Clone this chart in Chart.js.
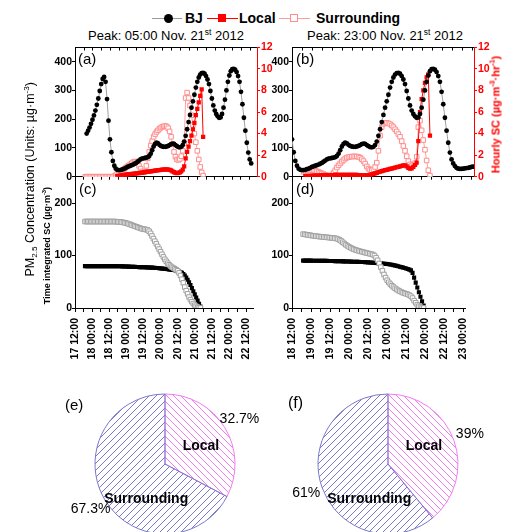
<!DOCTYPE html>
<html>
<head>
<meta charset="utf-8">
<title>PM2.5 source contribution, Beijing Nov. 2012</title>
<script src="https://cdn.jsdelivr.net/npm/chart.js@4.4.1/dist/chart.umd.min.js"></script>
<style>
  html, body { margin: 0; padding: 0; background: #fff; }
  #page { position: relative; width: 505px; height: 532px; overflow: hidden; font-family: 'Liberation Sans', Arial, sans-serif; color: #000; }
  #page canvas { position: absolute; }
  .t { position: absolute; white-space: nowrap; line-height: 1; }
  .rot { position: absolute; white-space: nowrap; text-align: center; line-height: 1; transform: rotate(-90deg); }
  sup, sub { font-size: 65%; line-height: 0; }
  .mk { position: absolute; }
</style>
</head>
<body>
<div id="page">
  <!-- legend -->
  <div class="mk" style="left:152px;top:18px;width:30px;height:1px;background:#9a9a9a"></div>
  <div class="mk" style="left:164px;top:14px;width:9px;height:9px;border-radius:50%;background:#000"></div>
  <div class="t" style="left:185px;top:11px;font-size:14px;font-weight:bold">BJ</div>
  <div class="mk" style="left:207px;top:18px;width:31px;height:1px;background:#ff0000"></div>
  <div class="mk" style="left:218px;top:14px;width:8px;height:8px;background:#ff0000"></div>
  <div class="t" style="left:239px;top:11px;font-size:14px;font-weight:bold">Local</div>
  <div class="mk" style="left:279px;top:18px;width:31px;height:1px;background:#ff9c9c"></div>
  <div class="mk" style="left:290px;top:14px;width:8px;height:8px;box-sizing:border-box;border:1px solid #ff8c8c;background:#fff"></div>
  <div class="t" style="left:316px;top:11px;font-size:14px;font-weight:bold">Surrounding</div>

  <div class="t" style="left:66px;top:29px;width:200px;text-align:center;font-size:13px">Peak: 05:00 Nov. 21<sup>st</sup> 2012</div>
  <div class="t" style="left:285px;top:29px;width:200px;text-align:center;font-size:13px">Peak: 23:00 Nov. 21<sup>st</sup> 2012</div>

  <canvas id="cA" width="250" height="144" style="left:35px;top:40px"></canvas>
  <canvas id="cB" width="250" height="144" style="left:252px;top:40px"></canvas>
  <canvas id="cC" width="230" height="198" style="left:35px;top:170px"></canvas>
  <canvas id="cD" width="230" height="198" style="left:252px;top:170px"></canvas>
  <canvas id="cE" width="210" height="168" style="left:60px;top:380px"></canvas>
  <canvas id="cF" width="210" height="168" style="left:283px;top:380px"></canvas>

  <div class="rot" style="left:-100px;top:173px;width:260px;font-size:12.5px">PM<sub>2.5</sub> Concentration (Units: µg·m<sup>-3</sup>)</div>
  <div class="rot" style="left:-23px;top:241px;width:140px;font-size:9px;font-weight:bold">Time integrated SC (µg·m<sup>-3</sup>)</div>
  <div class="rot" style="left:416px;top:109px;width:160px;font-size:11px;font-weight:bold;color:#ff0000">Hourly SC (µg·m<sup>-3</sup>·hr<sup>-1</sup>)</div>

  <div class="t" style="left:78px;top:51px;font-size:15px">(a)</div>
  <div class="t" style="left:296px;top:51px;font-size:15px">(b)</div>
  <div class="t" style="left:79px;top:181px;font-size:15px">(c)</div>
  <div class="t" style="left:296px;top:181px;font-size:15px">(d)</div>
  <div class="t" style="left:65px;top:397px;font-size:15px">(e)</div>
  <div class="t" style="left:288px;top:395px;font-size:16px">(f)</div>
</div>
<script>
// time is counted in hours after Nov 17 00:00, one value per hour
const bjStart = 20;
const bj = [
  150, 160, 171, 184, 198, 213, 230, 250, 272, 298, 322, 340,
  347, 330, 270, 195, 130, 85, 55, 38, 28, 24, 23, 23,
  24, 26, 28, 31, 34, 36, 38, 40, 42, 45, 48, 52,
  56, 60, 63, 64, 65, 66, 68, 72, 80, 92, 105, 114,
  118, 116, 111, 107, 105, 104, 104, 105, 107, 110, 113, 115,
  114, 110, 106, 103, 102, 104, 110, 122, 142, 165, 190, 215,
  240, 262, 285, 310, 330, 345, 355, 360, 361, 358, 350, 338,
  322, 298, 272, 248, 230, 218, 210, 205, 206, 218, 240, 268,
  300, 330, 352, 367, 374, 375, 372, 364, 350, 330, 295, 252,
  205, 160, 118, 84, 60, 46, 37, 31, 28, 27, 27, 28,
  29, 30, 31, 32, 34, 35
];

// hourly source contribution, peak of 05:00 Nov 21
const localAStart = 41;
const localA = [
  0.05, 0.08, 0.1, 0.12, 0.15, 0.18, 0.2, 0.22, 0.24, 0.25, 0.26, 0.27,
  0.28, 0.3, 0.32, 0.34, 0.36, 0.38, 0.4, 0.42, 0.44, 0.46, 0.48, 0.5,
  0.52, 0.54, 0.56, 0.58, 0.6, 0.62, 0.64, 0.65, 0.66, 0.67, 0.67, 0.66,
  0.63, 0.58, 0.5, 0.42, 0.36, 0.34, 0.35, 0.4, 0.5, 0.65, 0.95, 1.7,
  2.3, 2.8, 3.3, 3.8, 4.4, 5.0, 5.7, 6.3, 6.9, 7.5, 8.1, 3.7
];
const surrAStart = 19;
const surrA = [
  0, 0, 0, 0, 0, 0, 0, 0, 0, 0, 0, 0, 0, 0, 0, 0, 0, 0, 0, 0,
  0.05, 0.15, 0.25, 0.35, 0.45, 0.55, 0.65, 0.75, 0.85, 0.95,
  1.05, 1.15, 1.25, 1.35, 1.4, 1.4, 1.25, 1.0, 0.75, 0.5,
  0.4, 0.45, 1.0, 1.7, 2.3, 2.9, 3.3, 3.7, 3.95, 4.15,
  4.3, 4.45, 4.55, 4.62, 4.68, 4.7, 4.65, 4.5, 4.2, 3.7,
  3.0, 2.3, 1.85, 1.6, 1.55, 1.65, 1.9, 2.4, 3.1, 7.3,
  7.8, 7.3, 6.6, 5.7, 4.8, 4.0, 3.2, 2.4, 1.6, 0.9, 0.4, 0.1
];

// hourly source contribution, peak of 23:00 Nov 21
const localBStart = 44;
const localB = [
  0.05, 0.06, 0.07, 0.08, 0.09, 0.1, 0.1, 0.11, 0.11, 0.12,
  0.12, 0.13, 0.13, 0.14, 0.14, 0.15, 0.15, 0.15, 0.16, 0.16,
  0.16, 0.17, 0.17, 0.17, 0.18, 0.18, 0.18, 0.18, 0.18, 0.17,
  0.17, 0.16, 0.15, 0.14, 0.13, 0.12, 0.12, 0.13, 0.15, 0.18,
  0.22, 0.26, 0.3, 0.36, 0.42, 0.48, 0.52, 0.56, 0.6, 0.64,
  0.68, 0.72, 0.76, 0.8, 0.84, 0.88, 0.92, 0.96, 1.0, 1.04,
  1.05, 0.95, 0.82, 0.76, 0.78, 0.9, 1.1, 1.3, 3.3, 6.0, 7.2, 8.0, 8.7, 9.2, 9.5, 3.8
];
const surrBStart = 43;
const surrB = [
  0.45, 0.52, 0.58, 0.61, 0.62, 0.62, 0.6, 0.56, 0.5, 0.44,
  0.37, 0.3, 0.24, 0.18, 0.13, 0.08, 0.05, 0.15, 0.35, 0.6,
  0.85, 1.05, 1.23, 1.4, 1.55, 1.68, 1.76, 1.82, 1.85, 1.87,
  1.88, 1.88, 1.87, 1.84, 1.76, 1.62, 1.45, 1.22, 0.95, 0.75,
  0.63, 0.6, 0.68, 0.9, 1.3, 2.4, 3.8, 4.6, 4.9, 5.0,
  5.0, 4.95, 4.88, 4.75, 4.6, 4.4, 4.2, 3.95, 3.7, 3.3,
  2.85, 2.4, 1.9, 1.45, 1.15, 1.05, 1.1, 1.25, 1.85, 4.6, 5.2, 4.3, 3.4, 2.5, 1.5, 0.6, 0.1
];

// time integrated source contribution
const cumLocalAStart = 19;
const cumLocalA = [
  80, 80, 80, 80, 80, 80, 80, 80, 80, 80, 80, 80,
  80, 80, 80, 80, 80, 80, 80, 80, 80, 80, 79.9, 79.8,
  79.7, 79.6, 79.5, 79.4, 79.3, 79.2, 79, 78.9, 78.8, 78.7, 78.6, 78.5,
  78.3, 78.2, 78.1, 78, 77.9, 77.8, 77.7, 77.6, 77.5, 77.3, 77.1, 77,
  76.8, 76.6, 76.4, 76.2, 75.9, 75.6, 75.3, 75, 74.7, 74.4, 74, 73.6,
  73.2, 72.8, 72.4, 72, 71.4, 70.6, 69.6, 68.4, 67, 65, 62, 58,
  54, 49, 44, 38, 32, 26, 20, 14, 8, 3
];
const cumSurrAStart = 19;
const cumSurrA = [
  165, 165, 165, 165, 165, 165, 165, 165, 165, 165, 165, 165,
  165, 165, 165, 165, 165, 165, 165, 165, 165, 164.9, 164.8, 164.6,
  164.4, 164.1, 163.7, 163.2, 162.6, 161.9, 161.1, 160.2, 159.2, 158.1, 157, 156,
  155, 154, 153, 152, 151.2, 150.6, 150.1, 149.6, 148.8, 146.5, 142.5, 137.5,
  132.5, 127.5, 122.5, 117.5, 112.5, 107.5, 102.5, 97.5, 93, 89, 85.5, 82.5,
  80, 78, 76.3, 74.7, 73, 71, 67, 62, 55, 48, 40, 33,
  27, 21, 16, 12, 8.5, 5.5, 3.3, 1.7, 0.6, 0.1
];
const cumLocalBStart = 43;
const cumLocalB = [
  90.5, 90.5, 90.5, 90.4, 90.4, 90.4, 90.3, 90.3, 90.2, 90.2,
  90.1, 90.1, 90, 90, 89.9, 89.9, 89.8, 89.8, 89.7, 89.6,
  89.5, 89.4, 89.3, 89.2, 89.1, 89, 88.9, 88.8, 88.7, 88.6,
  88.5, 88.4, 88.3, 88.2, 88.1, 88, 87.9, 87.8, 87.7, 87.5,
  87.2, 87, 86.8, 86.6, 86.4, 86.2, 86, 85.7, 85.4, 85.1,
  84.8, 84.5, 84.2, 84, 83.5, 83, 82.4, 81.8, 81.1, 80.4,
  79.6, 78.8, 78, 77.2, 76.4, 75.5, 74.5, 73.3, 71.8, 67, 58, 48.5, 39, 30, 21.5, 13, 4.5
];
const cumSurrBStart = 43;
const cumSurrB = [
  141, 140.5, 140, 139.5, 139, 138.5, 138, 137.6, 137.2, 136.8,
  136.4, 136, 135.7, 135.4, 135.1, 134.8, 134.5, 134.2, 133.9, 133.6,
  133.2, 132.6, 131.5, 130, 128, 125.5, 123, 120.5, 118.5, 116.5,
  115, 113.5, 112, 111, 110, 109, 108.2, 107.4, 106.6, 105.8,
  105, 104.3, 103.6, 102.8, 102, 100, 96, 91, 85, 78,
  71, 64, 58, 53, 49, 45.5, 42.5, 40, 37.5, 35.5,
  33.5, 32, 30.5, 29, 28, 27, 26, 24.5, 22.5, 19, 14, 10, 6, 3.5, 1.8, 0.6, 0.1
];

// shares of the peak
const pieLabels = ['Local', 'Surrounding'];
const pieE = [32.7, 67.3];
const pieF = [39, 61];

const FONT = "'Liberation Sans', Arial, sans-serif";
Chart.defaults.font.family = FONT;
const tickFont = { family: FONT, size: 10.5, weight: 'bold' };

function pts(start, vals, lo, hi) {
  const out = [];
  vals.forEach((v, i) => {
    const x = start + i;
    if ((lo === undefined || x >= lo) && (hi === undefined || x <= hi)) out.push({ x: x, y: v });
  });
  return out;
}

function stamp(t) {
  const day = 17 + Math.floor(t / 24);
  const hh = t % 24;
  return day + ' ' + (hh < 10 ? '0' : '') + hh + ':00';
}

// top border with inward ticks for the upper panels
const topFrame = {
  id: 'topFrame',
  afterDraw(chart) {
    const { ctx, chartArea: a } = chart;
    const x = chart.scales.x;
    const yTop = Math.round(a.top) + 0.5;
    ctx.save();
    ctx.strokeStyle = '#000';
    ctx.lineWidth = 1;
    ctx.beginPath();
    ctx.moveTo(a.left, yTop);
    ctx.lineTo(a.right, yTop);
    x.ticks.forEach(t => {
      const px = Math.round(x.getPixelForValue(t.value)) + 0.5;
      ctx.moveTo(px, yTop);
      ctx.lineTo(px, yTop + 3);
    });
    ctx.stroke();
    ctx.restore();
  }
};

function leftAxis(max) {
  return {
    position: 'left', min: 0, max: max,
    afterFit: s => { s.width = 40; },
    ticks: { stepSize: 100, includeBounds: false, font: tickFont, color: '#000', padding: 0 },
    grid: { drawOnChartArea: false, tickLength: 3, color: '#000' },
    border: { color: '#000' }
  };
}

function topPanel(id, xMin, xMax, bjData, localData, surrData) {
  return new Chart(document.getElementById(id), {
    type: 'line',
    data: {
      datasets: [
        { label: 'BJ', data: bjData, yAxisID: 'y', borderColor: '#a0a0a0', borderWidth: 1,
          pointStyle: 'circle', pointRadius: 2.4, pointBackgroundColor: '#000', pointBorderColor: '#000', pointBorderWidth: 0 },
        { label: 'Local', data: localData, yAxisID: 'y2', borderColor: '#ff0000', borderWidth: 1,
          pointStyle: 'rect', pointRadius: 3, pointBackgroundColor: '#ff0000', pointBorderColor: '#ff0000', pointBorderWidth: 0 },
        { label: 'Surrounding', data: surrData, yAxisID: 'y2', borderColor: '#ffa0a0', borderWidth: 1,
          pointStyle: 'rect', pointRadius: 3.2, pointBackgroundColor: '#fff', pointBorderColor: '#ff8c8c', pointBorderWidth: 1 }
      ]
    },
    options: {
      responsive: false,
      animation: false,
      layout: { padding: { top: 7, left: 0, right: 0, bottom: 0 } },
      plugins: { legend: { display: false }, tooltip: { enabled: false } },
      scales: {
        x: {
          type: 'linear', min: xMin, max: xMax,
          afterFit: s => { s.height = 7; },
          ticks: { display: false, stepSize: 6, includeBounds: false },
          grid: { drawOnChartArea: false, tickLength: 3, color: '#000' },
          border: { color: '#000' }
        },
        y: leftAxis(450),
        y2: {
          position: 'right', min: 0, max: 12,
          afterFit: s => { s.width = 28; },
          ticks: { stepSize: 2, font: tickFont, color: '#ff0000', padding: 1 },
          grid: { drawOnChartArea: false, tickLength: 3, color: '#ff0000' },
          border: { color: '#ff0000' }
        }
      }
    },
    plugins: [topFrame]
  });
}

function bottomPanel(id, xMin, xMax, localData, surrData) {
  return new Chart(document.getElementById(id), {
    type: 'line',
    data: {
      datasets: [
        { label: 'Surrounding', data: surrData, borderColor: '#b4b4b4', borderWidth: 1,
          pointStyle: 'rect', pointRadius: 3.2, pointBackgroundColor: '#fff', pointBorderColor: '#a0a0a0', pointBorderWidth: 1 },
        { label: 'Local', data: localData, borderColor: '#000', borderWidth: 1,
          pointStyle: 'rect', pointRadius: 2.9, pointBackgroundColor: '#000', pointBorderColor: '#000', pointBorderWidth: 0 }
      ]
    },
    options: {
      responsive: false,
      animation: false,
      layout: { padding: { top: 7, left: 0, right: 8, bottom: 0 } },
      plugins: { legend: { display: false }, tooltip: { enabled: false } },
      scales: {
        x: {
          type: 'linear', min: xMin, max: xMax,
          afterFit: s => { s.height = 60; },
          ticks: {
            stepSize: 6, includeBounds: false, autoSkip: false,
            minRotation: 90, maxRotation: 90, padding: 6,
            font: tickFont, color: '#000',
            callback: v => (v % 12 === 0 ? stamp(v) : '')
          },
          grid: { drawOnChartArea: false, tickLength: 4, color: '#000' },
          border: { color: '#000' }
        },
        y: leftAxis(250)
      }
    }
  });
}

topPanel('cA', 12, 137,
  pts(bjStart, bj, 20, 133), pts(localAStart, localA), pts(surrAStart, surrA));
topPanel('cB', 36, 145.5,
  pts(bjStart, bj, 36, 145), pts(localBStart, localB), pts(surrBStart, surrB));
bottomPanel('cC', 12, 137, pts(cumLocalAStart, cumLocalA), pts(cumSurrAStart, cumSurrA));
bottomPanel('cD', 36, 145.5, pts(cumLocalBStart, cumLocalB), pts(cumSurrBStart, cumSurrB));

function hatch(color, rising) {
  const s = 7;
  const c = document.createElement('canvas');
  c.width = s;
  c.height = s;
  const g = c.getContext('2d');
  g.strokeStyle = color;
  g.lineWidth = 1;
  g.beginPath();
  if (rising) {
    g.moveTo(-1, s + 1); g.lineTo(s + 1, -1);
  } else {
    g.moveTo(-1, -1); g.lineTo(s + 1, s + 1);
  }
  g.stroke();
  return g.createPattern(c, 'repeat');
}

// percentages outside the slice, names inside
const pieText = {
  id: 'pieText',
  afterDatasetsDraw(chart, args, opts) {
    const { ctx } = chart;
    const ds = chart.data.datasets[0];
    ctx.save();
    ctx.fillStyle = '#000';
    ctx.textAlign = 'center';
    ctx.textBaseline = 'middle';
    chart.getDatasetMeta(0).data.forEach((arc, i) => {
      const p = arc.getProps(['x', 'y', 'startAngle', 'endAngle', 'outerRadius'], true);
      const mid = (p.startAngle + p.endAngle) / 2;
      const r = p.outerRadius + 17;
      ctx.font = '14px ' + FONT;
      ctx.fillText(ds.data[i] + '%', p.x + r * Math.cos(mid), p.y + r * Math.sin(mid));
      const spot = opts.names[i];
      const ang = (spot[0] - 90) * Math.PI / 180;
      ctx.font = 'bold 14px ' + FONT;
      ctx.fillText(chart.data.labels[i], p.x + spot[1] * Math.cos(ang), p.y + spot[1] * Math.sin(ang));
    });
    ctx.restore();
  }
};

function pie(id, values) {
  return new Chart(document.getElementById(id), {
    type: 'pie',
    data: {
      labels: pieLabels,
      datasets: [{
        data: values,
        backgroundColor: [hatch('#f07cf0', false), hatch('#7878cc', true)],
        borderColor: ['#f07cf0', '#7878cc'],
        borderWidth: 1,
        hoverOffset: 0
      }]
    },
    options: {
      responsive: false,
      animation: false,
      layout: { padding: 13.5 },
      plugins: {
        legend: { display: false },
        tooltip: { enabled: false },
        pieText: { names: [[64, 40], [208, 40]] }
      }
    },
    plugins: [pieText]
  });
}

pie('cE', pieE);
pie('cF', pieF);
</script>
</body>
</html>
